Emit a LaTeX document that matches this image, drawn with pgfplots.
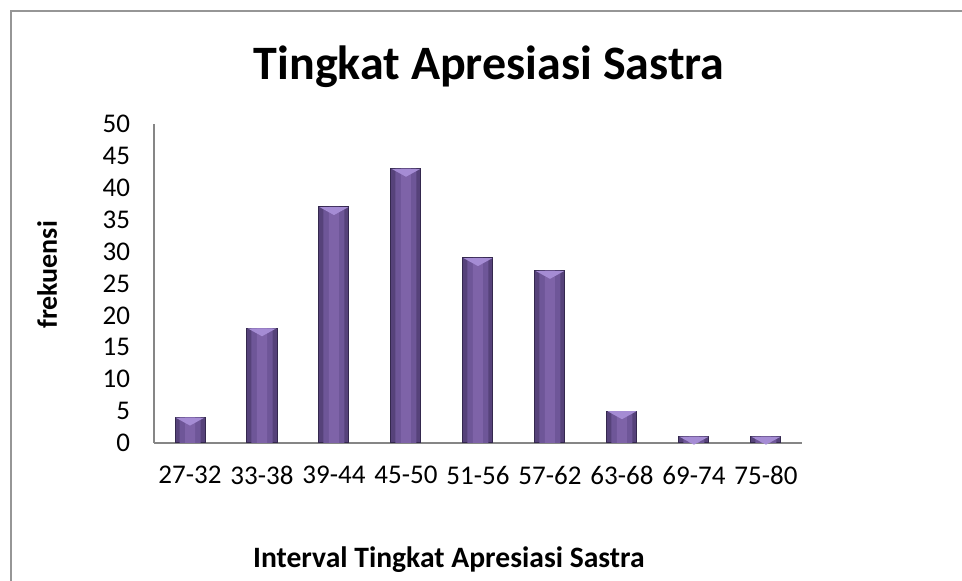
\documentclass[border=0pt]{standalone}
\usepackage{pgfplots}
\pgfplotsset{compat=1.18}
\usepackage{fontspec}
\setmainfont{Carlito}
\definecolor{axisgray}{RGB}{134,134,134}
\definecolor{frame}{RGB}{150,150,150}
\definecolor{barD}{RGB}{86,66,122}
\definecolor{barM}{RGB}{110,86,152}
\definecolor{barC}{RGB}{126,99,168}
\definecolor{barO}{RGB}{52,40,78}
\definecolor{barL}{RGB}{165,140,212}
\pgfplotstableread{
x y
0 4
1 18
2 37
3 43
4 29
5 27
6 5
7 1
8 1
}\freq
\begin{document}
\begin{tikzpicture}
\useasboundingbox (0,0) rectangle (481pt,290.5pt);
\fill[white] (0,0) rectangle (481pt,290.5pt);
\begin{axis}[
  at={(77pt,69pt)}, anchor=south west,
  scale only axis, width=324pt, height=159.5pt,
  ybar, bar width=15pt,
  xmin=-0.5, xmax=8.5, ymin=0, ymax=50,
  enlarge x limits=false, enlarge y limits=false,
  xtick={0,...,8},
  xticklabels={27-32,33-38,39-44,45-50,51-56,57-62,63-68,69-74,75-80},
  ytick={0,5,...,50},
  axis x line*=bottom, axis y line*=left,
  axis line style={-, draw=axisgray, line width=1pt},
  major tick length=0pt,
  /pgf/number format/assume math mode=true,
  ticklabel style={font=\fontsize{13.5}{16}\selectfont, text=black},
  yticklabel style={xshift=-8.5pt},
  xticklabel style={yshift=-8pt},
  title={Tingkat Apresiasi Sastra},
  title style={font=\fontsize{24}{28}\selectfont\bfseries, anchor=base, at={(axis description cs:0.517,1.101)}},
  xlabel={Interval Tingkat Apresiasi Sastra},
  xlabel style={font=\fontsize{14.8}{18}\selectfont\bfseries, anchor=base, at={(axis description cs:0.455,-0.389)}},
  ylabel={frekuensi},
  ylabel style={font=\fontsize{14}{17}\selectfont\bfseries, rotate=0, anchor=base, at={(axis description cs:-0.150,0.527)}},
]
\addplot[bar shift=0pt, bar width=15pt, draw=barO, line width=0.5pt, fill=barD] table[x=x,y=y] {\freq};
\addplot[bar shift=0pt, bar width=10.5pt, draw=none, fill=barM] table[x=x,y=y] {\freq};
\addplot[bar shift=0pt, bar width=5pt, draw=none, fill=barC,
  nodes near coords={},
  every node near coord/.style={inner sep=0pt, minimum width=14.5pt, minimum height=5pt, yshift=-5.25pt,
    path picture={\fill[barL] (path picture bounding box.north west) -- (path picture bounding box.north east) -- ([yshift=1pt]path picture bounding box.south) -- cycle;}}
] table[x=x,y=y] {\freq};
\end{axis}
\draw[frame, line width=1pt] (5.5pt,0) -- (5.5pt,285pt) -- (481pt,285pt);
\end{tikzpicture}
\end{document}
